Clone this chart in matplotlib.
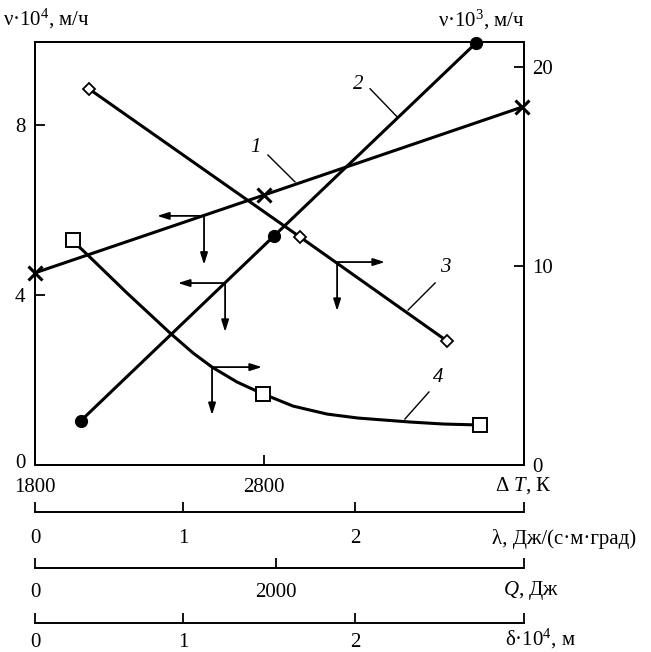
import numpy as np
import matplotlib
matplotlib.use('Agg')
import matplotlib.pyplot as plt
import matplotlib.transforms as mtransforms

plt.rcParams['font.family'] = ['Liberation Serif', 'DejaVu Serif']
plt.rcParams['mathtext.fontset'] = 'custom'
plt.rcParams['mathtext.rm'] = 'Liberation Serif'
plt.rcParams['mathtext.it'] = 'Liberation Serif:italic'

# curve 1 (x markers, left axis)
dT1 = [1800, 2800, 3927]
v1 = [4.52, 6.35, 8.42]
# curve 2 (filled circles, left axis)
dT2 = [2000, 2844, 3726]
v2 = [1.04, 5.39, 9.93]
# curve 3 (diamonds, right axis)
dT3 = [2036, 2957, 3599]
v3 = [18.9, 11.46, 6.23]
# curve 4 (squares, right axis), traced line + marker points
dT4_line = [1966, 2053, 2202, 2390, 2490, 2573, 2682, 2796, 2927, 3075, 3210, 3438, 3582, 3743]
v4_line = [11.26, 10.30, 8.64, 6.63, 5.63, 4.92, 4.17, 3.57, 2.96, 2.56, 2.36, 2.16, 2.06, 2.01]
dT4 = [1966, 2796, 3743]
v4 = [11.3, 3.57, 2.01]

# extra scales under the plot (tick values and where they sit on the dT axis)
lam_ticks = ['0', '1', '2']
lam_pos = [1800, 2446, 3197]
q_ticks = ['0', '2000']
q_pos = [1800, 2852]
delta_ticks = ['0', '1', '2']
delta_pos = [1800, 2446, 3197]

W, H = 651, 652
fig = plt.figure(figsize=(W / 100, H / 100), dpi=100)
L, R, T, B = 35, 524, 42, 465
ax = fig.add_axes([L / W, 1 - B / H, (R - L) / W, (B - T) / H])
ax2 = ax.twinx()

xmin, xmax = 1800, 3935
ax.set_xlim(xmin, xmax)
ax.set_ylim(0, 9.95)
ax2.set_ylim(0, 21.26)

fs = 15
lw = 2.2
for a in (ax, ax2):
    for s in a.spines.values():
        s.set_linewidth(1.4)
ax.set_yticks([0, 4, 8])
ax.set_xticks([1800, 2800])
ax.set_xticklabels(['1800', '2800'])
ax2.set_yticks([0, 10, 20])
ax.tick_params(axis='both', direction='in', length=7, width=1.3, labelsize=fs, pad=7)
ax2.tick_params(axis='y', direction='in', length=7, width=1.3, labelsize=fs, pad=6)
ax.tick_params(axis='x', pad=9.3)

# lift the left "0" a little, as in the original
fig.canvas.draw()
lab0 = ax.get_yticklabels()[0]
lab0.set_transform(lab0.get_transform() + mtransforms.ScaledTranslation(0, 4 / 100, fig.dpi_scale_trans))

# curves
ax.plot(dT1, v1, color='k', lw=lw, marker='x', ms=10, mew=2.2, clip_on=False, zorder=5)
ax.plot(dT2, v2, color='k', lw=lw, marker='o', ms=8.5, clip_on=False, zorder=5)
ax2.plot(dT3, v3, color='k', lw=lw, zorder=4)
ax2.plot(dT3, v3, ls='none', marker='D', ms=6.5, mfc='white', mec='k', mew=1.3, zorder=6)
ax2.plot(dT4_line, v4_line, color='k', lw=lw, zorder=4)
ax2.plot(dT4, v4, ls='none', marker='s', ms=10, mfc='white', mec='k', mew=1.4, zorder=6)

# direction arrows: origin, horizontal end, vertical end
def corner_arrows(a, x0, y0, xh, yv):
    props = dict(arrowstyle='-|>,head_length=0.7,head_width=0.22', lw=1.3, color='k',
                 shrinkA=0, shrinkB=0)
    a.annotate('', xy=(xh, y0), xytext=(x0, y0), arrowprops=props)
    a.annotate('', xy=(x0, yv), xytext=(x0, y0), arrowprops=props)

corner_arrows(ax, 2538, 5.86, 2333, 4.71)
corner_arrows(ax, 2630, 4.28, 2424, 3.13)
corner_arrows(ax2, 2573, 4.92, 2791, 2.51)
corner_arrows(ax2, 3119, 10.2, 3328, 7.74)

# curve numbers with leader lines
ax.plot([2817, 2935], [7.29, 6.66], color='k', lw=1.0)
ax.text(2761, 7.48, '1', fontsize=fs, style='italic', ha='center', va='center')
ax.plot([3263, 3381], [8.85, 8.19], color='k', lw=1.0)
ax.text(3210, 8.94, '2', fontsize=fs, style='italic', ha='center', va='center')
ax2.plot([3547, 3429], [9.15, 7.79], color='k', lw=1.0)
ax2.text(3590, 9.95, '3', fontsize=fs, style='italic', ha='center', va='center')
ax2.plot([3520, 3415], [3.67, 2.31], color='k', lw=1.0)
ax2.text(3559, 4.42, '4', fontsize=fs, style='italic', ha='center', va='center')

# axis titles
fig.text(3 / W, 1 - 19 / H, r'ν·10$^{4}$, м/ч', fontsize=fs, ha='left', va='center')
fig.text(438 / W, 1 - 20 / H, r'ν·10$^{3}$, м/ч', fontsize=fs, ha='left', va='center')
fig.text(552 / W, 1 - 486 / H, r'Δ $T$, К', fontsize=fs, ha='right', va='center')

# extra scales
def scale_axis(y_px, pos, labels, pad, title, title_x, title_y):
    s = fig.add_axes([L / W, 1 - y_px / H, (R - L) / W, 0.0001])
    s.set_xlim(xmin, xmax)
    s.set_yticks([])
    for k in ('top', 'left', 'right'):
        s.spines[k].set_visible(False)
    s.spines['bottom'].set_linewidth(1.4)
    s.set_xticks(list(pos) + [xmax])
    s.set_xticklabels(list(labels) + [''])
    s.tick_params(axis='x', direction='in', length=7, width=1.3, labelsize=fs, pad=pad)
    fig.text(title_x / W, 1 - title_y / H, title, fontsize=fs, ha='left', va='center')

scale_axis(512, lam_pos, lam_ticks, 12, 'λ, Дж/(с·м·град)', 492, 539)
scale_axis(568, q_pos, q_ticks, 11, r'$Q$, Дж', 503, 591)
scale_axis(623, delta_pos, delta_ticks, 7, r'δ·10$^{4}$, м', 505, 639)

fig.savefig('out.png', dpi=100)
